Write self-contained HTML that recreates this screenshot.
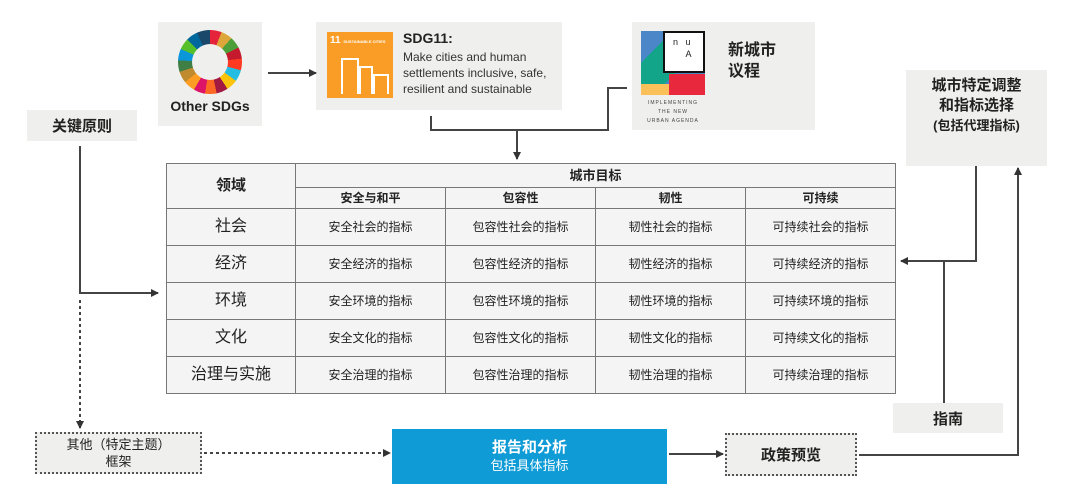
<!DOCTYPE html>
<html><head><meta charset="utf-8"><style>
body{margin:0;width:1080px;height:504px;background:#fff;position:relative;overflow:hidden;font-family:"Liberation Sans","Noto Sans CJK SC",sans-serif;color:#222}
.a{position:absolute}
.g{background:#efefed}
.c{display:flex;align-items:center;justify-content:center;text-align:center}
table{border-collapse:collapse;position:absolute;left:166px;top:163px;width:729px;background:#f4f4f4;table-layout:fixed}
td{border:1.5px solid #777;text-align:center;font-size:12px;padding:0;line-height:14px}
tr.r td{height:36px}
tr.h1 td{height:23px}
tr.h2 td{height:20px}
</style></head><body>
<div class="a g" style="left:158px;top:22px;width:104px;height:104px"></div>
<div class="a" style="left:178px;top:30px;width:64px;height:64px;border-radius:50%;background:conic-gradient(#e5243b 0 21deg,#dda63a 21deg 42deg,#4c9f38 42deg 63deg,#c5192d 63deg 84deg,#ff3a21 84deg 105deg,#26bde2 105deg 126deg,#fcc30b 126deg 147deg,#a21942 147deg 168deg,#fd6925 168deg 189deg,#dd1367 189deg 210deg,#fd9d24 210deg 231deg,#bf8b2e 231deg 252deg,#3f7e44 252deg 273deg,#0a97d9 273deg 294deg,#56c02b 294deg 315deg,#00689d 315deg 336deg,#19486a 336deg 360deg)"></div>
<div class="a" style="left:192px;top:44px;width:36px;height:36px;border-radius:50%;background:#efefed"></div>
<div class="a" style="left:158px;top:98px;width:104px;text-align:center;font-weight:bold;font-size:14px">Other SDGs</div>
<div class="a g" style="left:316px;top:22px;width:246px;height:88px"></div>
<div class="a" style="left:327px;top:32px;width:66px;height:66px;background:#f99d26;color:#fff;font-size:10px;font-weight:bold;padding:3px;box-sizing:border-box">11 <span style="font-size:4px">SUSTAINABLE CITIES</span>
<div style="position:absolute;left:14px;top:26px;width:14px;height:34px;border:2px solid #fff;border-bottom:none"></div>
<div style="position:absolute;left:32px;top:34px;width:10px;height:26px;border:2px solid #fff;border-bottom:none"></div>
<div style="position:absolute;left:46px;top:42px;width:12px;height:18px;border:2px solid #fff;border-bottom:none"></div></div>
<div class="a" style="left:403px;top:30px;font-size:14px;font-weight:bold">SDG11:</div>
<div class="a" style="left:403px;top:49px;font-size:12px;line-height:16px;color:#333">Make cities and human<br>settlements inclusive, safe,<br>resilient and sustainable</div>
<div class="a g" style="left:632px;top:22px;width:183px;height:108px"></div>
<div class="a" style="left:641px;top:31px;width:64px;height:64px;background:linear-gradient(135deg,#4a86c8 0 25%,#12a58a 25% 60%,#4a86c8 60%)"></div>
<div class="a" style="left:641px;top:84px;width:28px;height:11px;background:#fbc05a"></div>
<div class="a" style="left:669px;top:74px;width:36px;height:21px;background:#e8283c"></div>
<div class="a" style="left:663px;top:31px;width:42px;height:42px;background:#fff;border:2px solid #111;box-sizing:border-box;font-size:9px;padding:3px 0 0 8px;line-height:12px">n&nbsp;&nbsp;&nbsp;u<br>&nbsp;&nbsp;&nbsp;&nbsp;&nbsp;A</div>
<div class="a" style="left:641px;top:99px;width:64px;font-size:5px;letter-spacing:1px;text-align:center;line-height:9px;color:#444">IMPLEMENTING<br>THE NEW<br>URBAN AGENDA</div>
<div class="a" style="left:728px;top:40px;font-size:16px;font-weight:bold;line-height:21px">新城市<br>议程</div>
<div class="a g" style="left:906px;top:70px;width:141px;height:96px;padding-top:6px;box-sizing:border-box;font-weight:bold;font-size:15px;line-height:20px;text-align:center">城市特定调整<br>和指标选择<br><span style="font-size:13px">(包括代理指标)</span></div>
<div class="a g c" style="left:27px;top:110px;width:110px;height:31px;font-weight:bold;font-size:15px"><div>关键原则</div></div>
<table>
<colgroup><col style="width:129px"><col style="width:150px"><col style="width:150px"><col style="width:150px"><col style="width:150px"></colgroup>
<tr class="h1"><td rowspan="2" style="font-weight:bold;font-size:15px">领域</td><td colspan="4" style="font-weight:bold;font-size:13px">城市目标</td></tr>
<tr class="h2" style="font-weight:bold"><td>安全与和平</td><td>包容性</td><td>韧性</td><td>可持续</td></tr>
<tr class="r"><td style="font-size:16px">社会</td><td>安全社会的指标</td><td>包容性社会的指标</td><td>韧性社会的指标</td><td>可持续社会的指标</td></tr>
<tr class="r"><td style="font-size:16px">经济</td><td>安全经济的指标</td><td>包容性经济的指标</td><td>韧性经济的指标</td><td>可持续经济的指标</td></tr>
<tr class="r"><td style="font-size:16px">环境</td><td>安全环境的指标</td><td>包容性环境的指标</td><td>韧性环境的指标</td><td>可持续环境的指标</td></tr>
<tr class="r"><td style="font-size:16px">文化</td><td>安全文化的指标</td><td>包容性文化的指标</td><td>韧性文化的指标</td><td>可持续文化的指标</td></tr>
<tr class="r"><td style="font-size:16px">治理与实施</td><td>安全治理的指标</td><td>包容性治理的指标</td><td>韧性治理的指标</td><td>可持续治理的指标</td></tr>
</table>
<div class="a g c" style="left:35px;top:432px;width:167px;height:42px;border:2px dotted #555;box-sizing:border-box;font-size:13px;line-height:17px"><div>其他（特定主题）<br>框架</div></div>
<div class="a c" style="left:392px;top:429px;width:275px;height:55px;background:#0e9bd6;color:#fff;font-weight:bold;font-size:15px;line-height:18px"><div>报告和分析<br><span style="font-weight:normal;font-size:13px">包括具体指标</span></div></div>
<div class="a g c" style="left:725px;top:433px;width:132px;height:43px;border:2px dotted #555;box-sizing:border-box;font-weight:bold;font-size:15px"><div>政策预览</div></div>
<div class="a g c" style="left:893px;top:403px;width:110px;height:30px;font-weight:bold;font-size:15px"><div>指南</div></div>
<svg class="a" style="left:0;top:0" width="1080" height="504">
<defs><marker id="m" markerWidth="8" markerHeight="8" refX="7" refY="4" orient="auto" markerUnits="userSpaceOnUse"><path d="M0,0L8,4L0,8z" fill="#333"/></marker></defs>
<g stroke="#444" stroke-width="2" fill="none">
<line x1="268" y1="73" x2="316" y2="73" marker-end="url(#m)"/>
<polyline points="431,116 431,130 608,130 608,88 627,88"/>
<line x1="517" y1="130" x2="517" y2="159" marker-end="url(#m)"/>
<polyline points="80,146 80,293 158,293" marker-end="url(#m)"/>
<line x1="80" y1="300" x2="80" y2="428" stroke-dasharray="3,3" marker-end="url(#m)"/>
<line x1="204" y1="453" x2="390" y2="453" stroke-dasharray="3,3" marker-end="url(#m)"/>
<line x1="669" y1="454" x2="723" y2="454" marker-end="url(#m)"/>
<polyline points="976,166 976,261 901,261" marker-end="url(#m)"/>
<line x1="944" y1="261" x2="944" y2="403"/>
<polyline points="859,455 1018,455 1018,168" marker-end="url(#m)"/>
</g></svg>
</body></html>
